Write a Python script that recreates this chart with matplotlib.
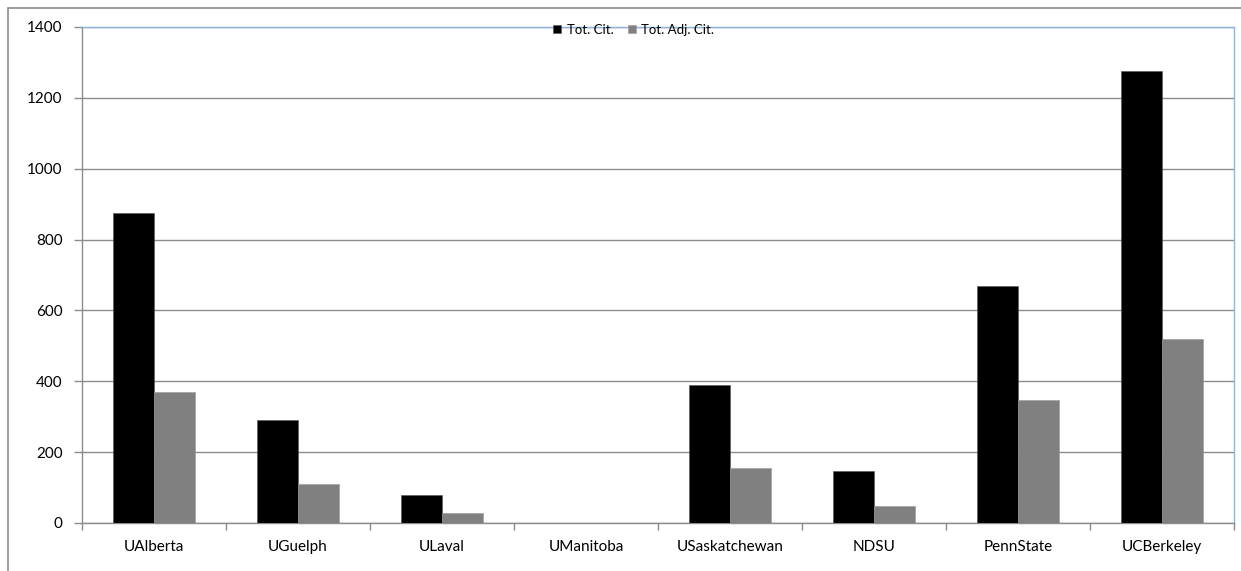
#citation totals per university - bar chart
import numpy as np
import matplotlib.pyplot as plt
from matplotlib.patches import Rectangle

plt.rcParams['font.family'] = ['Lato', 'DejaVu Sans']

universities = ["UAlberta", "UGuelph", "ULaval", "UManitoba", "USaskatchewan", "NDSU", "PennState", "UCBerkeley"]
tot_cit = [876, 290, 79, 0, 389, 146, 669, 1277]
tot_adj_cit = [369, 111, 27, 0, 154, 48, 348, 519]
y_ticks = [0, 200, 400, 600, 800, 1000, 1200, 1400]

W, H = 1241, 571
fig = plt.figure(figsize=(W / 100, H / 100), dpi=100)
ax = fig.add_axes([82 / W, 1 - 523 / H, (1234 - 82) / W, (523 - 27) / H])

#outer chart frame (runs off the right and bottom edge)
fig.patches.append(Rectangle((8 / W, -0.1), 1.2, 1 - 8 / H + 0.1, transform=fig.transFigure,
                             fill=False, edgecolor="#8c8c8c", linewidth=1.2))

x = np.arange(len(universities))
bw = 0.285
ax.bar(x - bw / 2, tot_cit, bw, color="black", edgecolor="#555555", linewidth=0.4, label="Tot. Cit.", zorder=3)
ax.bar(x + bw / 2, tot_adj_cit, bw, color="#808080", edgecolor="#999999", linewidth=0.4, label="Tot. Adj. Cit.", zorder=3)

ax.set_xlim(-0.5, len(universities) - 0.5)
ax.set_ylim(0, 1400)
ax.set_yticks(y_ticks)
ax.set_yticklabels([str(v) for v in y_ticks], fontsize=11)
ax.yaxis.grid(True, color="#8c8c8c", linewidth=1, zorder=0)

#category labels centered, tick marks between categories
ax.set_xticks(x)
ax.set_xticklabels(universities, fontsize=11)
ax.tick_params(axis="x", length=0, pad=12)
ax.set_xticks(np.arange(len(universities) + 1) - 0.5, minor=True)
ax.tick_params(axis="x", which="minor", length=5, color="#8c8c8c", width=1)
ax.tick_params(axis="y", length=6, color="#8c8c8c", width=1, pad=8)

ax.spines["left"].set_color("#8c8c8c")
ax.spines["bottom"].set_color("#8c8c8c")
ax.spines["top"].set_color("#8db3e2")
ax.spines["right"].set_color("#8db3e2")
for s in ax.spines.values():
    s.set_linewidth(1)

ax.legend(loc="upper center", bbox_to_anchor=(0.479, 1.025), ncol=2, frameon=False, fontsize=9.5,
          handlelength=0.6, handleheight=0.6, handletextpad=0.4, columnspacing=1.1,
          borderpad=0.2)

fig.savefig("out.png", dpi=100)
